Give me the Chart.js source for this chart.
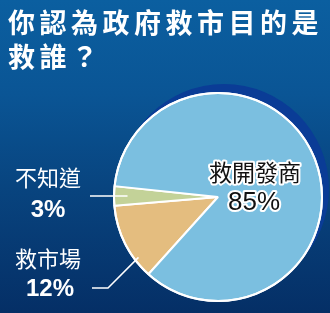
<!DOCTYPE html>
<html>
<head>
<meta charset="utf-8">
<script src="https://cdn.jsdelivr.net/npm/chart.js@4/dist/chart.umd.min.js"></script>
<style>
  html, body { margin: 0; padding: 0; }
  body { width: 330px; height: 313px; overflow: hidden;
         background: linear-gradient(to bottom, #0b5fa0 0%, #0a5595 30%, #08447f 60%, #052f66 100%); }
  #wrap { position: relative; width: 330px; height: 313px; }
  #title { position: absolute; left: 8px; top: 5px; color: #fff;
           font-family: "Noto Sans CJK TC", "Noto Sans CJK SC", sans-serif; font-weight: 700;
           font-size: 27px; line-height: 34px; letter-spacing: 4.5px; white-space: nowrap; }
  canvas { position: absolute; left: 0; top: 0; }
</style>
</head>
<body>
<div id="wrap">
  <canvas id="pie" width="330" height="313"></canvas>
  <div id="title">你認為政府救市目的是<br>救誰？</div>
</div>
<script>
// Survey answers, drawn clockwise starting at the lower left
const categories = ['救市場', '不知道', '救開發商'];
const shares = [12, 3, 85];
const sliceColors = ['#e4bd7f', '#c3d298', '#7bbfe0'];

const CJK = '"Noto Sans CJK TC", "Noto Sans CJK SC", sans-serif';

// Dark disc behind the pie, shifted up and to the right
const shadowDisc = {
  id: 'shadowDisc',
  beforeDatasetsDraw(chart) {
    const arc = chart.getDatasetMeta(0).data[0];
    if (!arc) return;
    const ctx = chart.ctx;
    ctx.save();
    ctx.fillStyle = '#0a3c96';
    ctx.beginPath();
    ctx.arc(arc.x + 6, arc.y - 8, arc.outerRadius + 1, 0, Math.PI * 2);
    ctx.fill();
    ctx.restore();
  }
};

// Slice captions and leader lines
const sliceLabels = {
  id: 'sliceLabels',
  afterDatasetsDraw(chart) {
    const meta = chart.getDatasetMeta(0);
    const ctx = chart.ctx;
    const cx = meta.data[0].x, cy = meta.data[0].y, r = meta.data[0].outerRadius;
    ctx.save();
    ctx.textAlign = 'center';
    ctx.textBaseline = 'middle';

    // white outer ring
    ctx.strokeStyle = '#ffffff';
    ctx.lineWidth = 2;
    ctx.beginPath();
    ctx.arc(cx, cy, r, 0, Math.PI * 2);
    ctx.stroke();

    // leader for the small slice: from inside the slice, straight left
    const g = meta.data[1];
    const gMid = (g.startAngle + g.endAngle) / 2;
    const gx = cx + Math.cos(gMid) * r * 0.87, gy = cy + Math.sin(gMid) * r * 0.87;
    ctx.lineWidth = 1.5;
    ctx.beginPath();
    ctx.moveTo(gx, gy);
    ctx.lineTo(90, gy);
    ctx.stroke();

    // leader for the market slice: from its edge, down-left, then flat
    const t = meta.data[0];
    const tA = t.startAngle + (t.endAngle - t.startAngle) * 0.25;
    const tx = cx + Math.cos(tA) * r * 0.96, ty = cy + Math.sin(tA) * r * 0.96;
    ctx.beginPath();
    ctx.moveTo(tx, ty);
    ctx.lineTo(108, 288);
    ctx.lineTo(92, 288);
    ctx.stroke();

    // left captions
    ctx.fillStyle = '#ffffff';
    ctx.font = '400 22px ' + CJK;
    ctx.fillText(categories[1], 48, 178);
    ctx.fillText(categories[0], 48, 259);
    ctx.font = '700 24px "Liberation Sans", Arial, sans-serif';
    ctx.fillText(shares[1] + '%', 48, 210);
    ctx.fillText(shares[0] + '%', 50, 289);

    // caption inside the large slice, dark text with a white halo
    ctx.font = '400 23px ' + CJK;
    ctx.lineJoin = 'round';
    ctx.strokeStyle = '#ffffff';
    ctx.lineWidth = 4;
    ctx.strokeText(categories[2], 255, 172);
    ctx.fillStyle = '#111111';
    ctx.fillText(categories[2], 255, 172);
    ctx.font = '400 26px "Liberation Sans", Arial, sans-serif';
    ctx.strokeText(shares[2] + '%', 254, 203);
    ctx.fillText(shares[2] + '%', 254, 203);
    ctx.restore();
  }
};

new Chart(document.getElementById('pie'), {
  type: 'pie',
  data: {
    labels: categories,
    datasets: [{
      data: shares,
      backgroundColor: sliceColors,
      borderColor: '#ffffff',
      borderWidth: 2,
      hoverOffset: 0
    }]
  },
  options: {
    responsive: false,
    animation: false,
    rotation: 222,
    layout: { padding: { left: 113, right: 7, top: 92, bottom: 11 } },
    plugins: { legend: { display: false }, tooltip: { enabled: false }, title: { display: false } },
    events: []
  },
  plugins: [shadowDisc, sliceLabels]
});
</script>
</body>
</html>
